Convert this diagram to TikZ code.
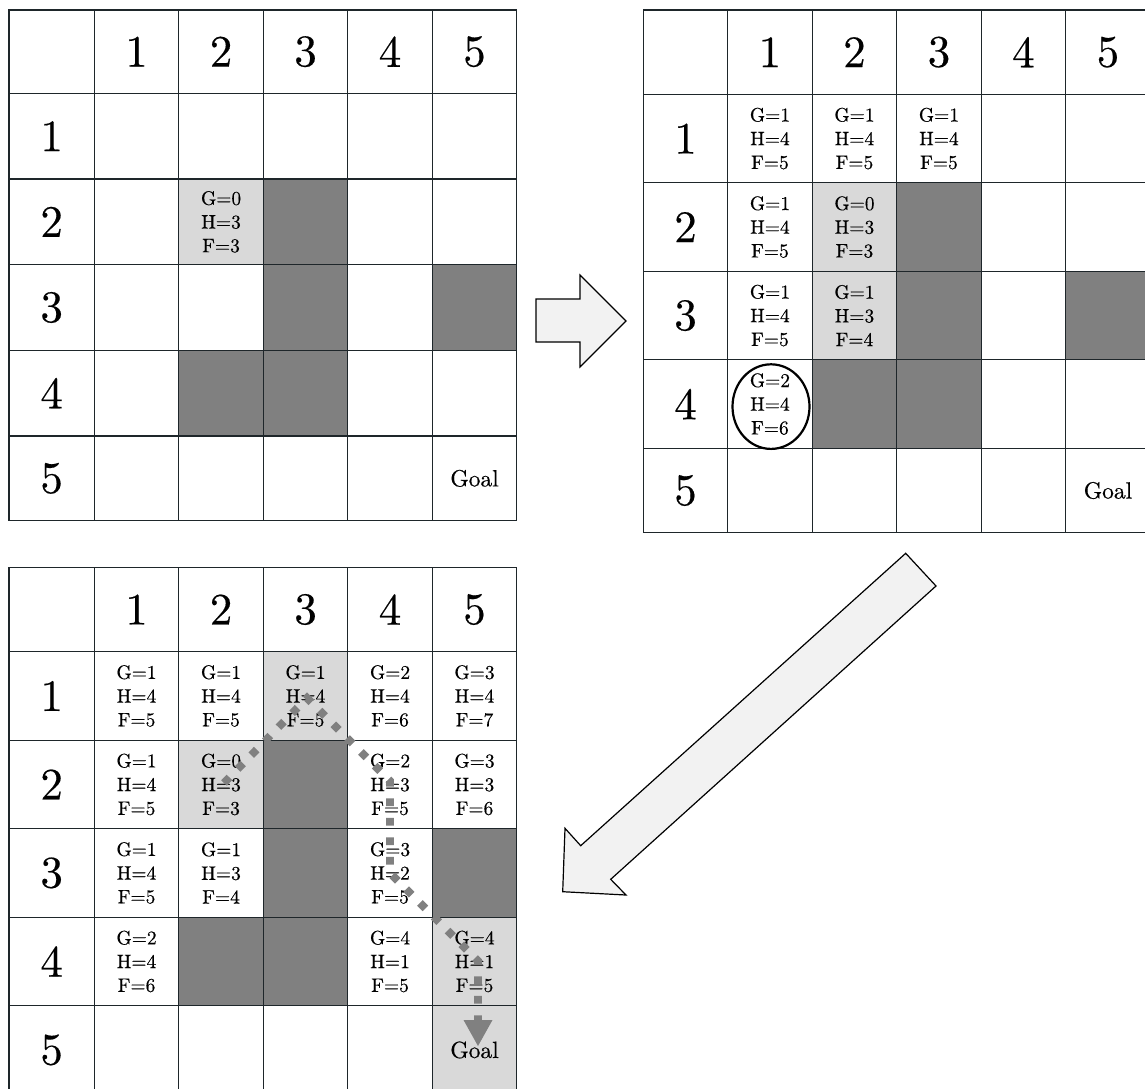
\documentclass[tikz,border=0pt]{standalone}
\usepackage{fontspec}
\setmainfont{lmroman10-regular.otf}[FakeBold=0.35]
\usetikzlibrary{arrows.meta}
\definecolor{darkcell}{RGB}{128,128,128}
\definecolor{lightcell}{RGB}{217,217,217}
\definecolor{arrowfill}{RGB}{242,242,242}
\definecolor{pathgray}{RGB}{128,128,128}
\definecolor{gridcol}{RGB}{30,38,42}
\tikzset{
  gridline/.style={draw=gridcol, line width=1.3pt, line cap=rect},
  darkfill/.style={fill=darkcell},
  lightfill/.style={fill=lightcell},
  headlabel/.style={font=\fontsize{45}{45}\selectfont, inner sep=0pt},
  vals/.style={font=\fontsize{19.5}{23.7}\selectfont, align=center, inner sep=0pt},
  goallabel/.style={font=\fontsize{23.5}{23.5}\selectfont, inner sep=0pt},
  blockarrow/.style={draw=black, fill=arrowfill, line width=1.2pt, line join=miter},
  route/.style={draw=pathgray, line width=7.8pt, dash pattern=on 7.8pt off 11.7pt,
    -{Triangle[length=26pt,width=29pt,line width=0pt]}},
  ring/.style={draw=black, line width=2.2pt}
}
\def\TLX{{9,94.3,178.8,263.3,347.8,432.3,516.7}}
\def\TLY{{10,93.3,179,264.7,350.3,436,520.7}}
\def\TRX{{643.3,727.7,812.2,896.7,981.2,1065.7,1150.2}}
\def\TRY{{10,94.3,182.8,271.3,359.8,448.3,532.7}}
\def\BX{{9,94.3,178.8,263.3,347.8,432.3,516.7}}
\def\BY{{567.3,651.7,740.2,828.7,917.2,1005.7,1094.2}}
\newcommand\cellfill[5]{%
  \pgfmathsetmacro\cxa{#1[#4]}\pgfmathsetmacro\cxb{#1[#4+1]}%
  \pgfmathsetmacro\cya{#2[#3]}\pgfmathsetmacro\cyb{#2[#3+1]}%
  \fill[#5] (\cxa,\cya) rectangle (\cxb,\cyb);}
\newcommand\celltext[7]{%
  \pgfmathsetmacro\cxa{#1[#4]}\pgfmathsetmacro\cxb{#1[#4+1]}%
  \pgfmathsetmacro\cya{#2[#3]}\pgfmathsetmacro\cyb{#2[#3+1]}%
  \pgfmathsetmacro\cxm{(\cxa+\cxb)/2}%
  \pgfmathsetmacro\cym{(\cya+\cyb)/2}%
  \node[#6] (#5) at (\cxm,\cym) {#7};}
\newcommand\gridlines[2]{%
  \foreach \k in {0,...,6}{%
    \pgfmathsetmacro\gxa{#1[\k]}\pgfmathsetmacro\gya{#2[0]}\pgfmathsetmacro\gyb{#2[6]}%
    \draw[gridline] (\gxa,\gya) -- (\gxa,\gyb);
    \pgfmathsetmacro\gyy{#2[\k]}\pgfmathsetmacro\gxb{#1[0]}\pgfmathsetmacro\gxc{#1[6]}%
    \draw[gridline] (\gxb,\gyy) -- (\gxc,\gyy);}}
\begin{document}
\begin{tikzpicture}[x=1pt,y=-1pt]
\useasboundingbox (0,0) rectangle (1145,1088);
\fill[white] (0,0) rectangle (1145,1088);

% ---------- top-left grid ----------
\cellfill{\TLX}{\TLY}{2}{2}{lightfill}
\cellfill{\TLX}{\TLY}{2}{3}{darkfill}
\cellfill{\TLX}{\TLY}{3}{3}{darkfill}
\cellfill{\TLX}{\TLY}{4}{3}{darkfill}
\cellfill{\TLX}{\TLY}{4}{2}{darkfill}
\cellfill{\TLX}{\TLY}{3}{5}{darkfill}
\foreach \c in {1,...,5}{\celltext{\TLX}{\TLY}{0}{\c}{tl-c\c}{headlabel}{\c}}
\foreach \r in {1,...,5}{\celltext{\TLX}{\TLY}{\r}{0}{tl-r\r}{headlabel}{\r}}
\celltext{\TLX}{\TLY}{2}{2}{tl-22}{vals}{G=0\\H=3\\F=3}
\celltext{\TLX}{\TLY}{5}{5}{tl-goal}{goallabel}{Goal}
\gridlines{\TLX}{\TLY}

% ---------- top-right grid ----------
\cellfill{\TRX}{\TRY}{2}{2}{lightfill}
\cellfill{\TRX}{\TRY}{3}{2}{lightfill}
\cellfill{\TRX}{\TRY}{2}{3}{darkfill}
\cellfill{\TRX}{\TRY}{3}{3}{darkfill}
\cellfill{\TRX}{\TRY}{4}{3}{darkfill}
\cellfill{\TRX}{\TRY}{4}{2}{darkfill}
\cellfill{\TRX}{\TRY}{3}{5}{darkfill}
\foreach \c in {1,...,5}{\celltext{\TRX}{\TRY}{0}{\c}{tr-c\c}{headlabel}{\c}}
\foreach \r in {1,...,5}{\celltext{\TRX}{\TRY}{\r}{0}{tr-r\r}{headlabel}{\r}}
\celltext{\TRX}{\TRY}{1}{1}{tr-11}{vals}{G=1\\H=4\\F=5}
\celltext{\TRX}{\TRY}{1}{2}{tr-12}{vals}{G=1\\H=4\\F=5}
\celltext{\TRX}{\TRY}{1}{3}{tr-13}{vals}{G=1\\H=4\\F=5}
\celltext{\TRX}{\TRY}{2}{1}{tr-21}{vals}{G=1\\H=4\\F=5}
\celltext{\TRX}{\TRY}{2}{2}{tr-22}{vals}{G=0\\H=3\\F=3}
\celltext{\TRX}{\TRY}{3}{1}{tr-31}{vals}{G=1\\H=4\\F=5}
\celltext{\TRX}{\TRY}{3}{2}{tr-32}{vals}{G=1\\H=3\\F=4}
\celltext{\TRX}{\TRY}{4}{1}{tr-41}{vals}{G=2\\H=4\\F=6}
\celltext{\TRX}{\TRY}{5}{5}{tr-goal}{goallabel}{Goal}
\gridlines{\TRX}{\TRY}
\draw[ring] (771,406.6) ellipse [x radius=38.5pt, y radius=42.3pt];

% ---------- bottom grid ----------
\cellfill{\BX}{\BY}{1}{3}{lightfill}
\cellfill{\BX}{\BY}{2}{2}{lightfill}
\cellfill{\BX}{\BY}{4}{5}{lightfill}
\cellfill{\BX}{\BY}{5}{5}{lightfill}
\cellfill{\BX}{\BY}{2}{3}{darkfill}
\cellfill{\BX}{\BY}{3}{3}{darkfill}
\cellfill{\BX}{\BY}{4}{3}{darkfill}
\cellfill{\BX}{\BY}{4}{2}{darkfill}
\cellfill{\BX}{\BY}{3}{5}{darkfill}
\foreach \c in {1,...,5}{\celltext{\BX}{\BY}{0}{\c}{b-c\c}{headlabel}{\c}}
\foreach \r in {1,...,5}{\celltext{\BX}{\BY}{\r}{0}{b-r\r}{headlabel}{\r}}
\celltext{\BX}{\BY}{1}{1}{b-11}{vals}{G=1\\H=4\\F=5}
\celltext{\BX}{\BY}{1}{2}{b-12}{vals}{G=1\\H=4\\F=5}
\celltext{\BX}{\BY}{1}{3}{b-13}{vals}{G=1\\H=4\\F=5}
\celltext{\BX}{\BY}{1}{4}{b-14}{vals}{G=2\\H=4\\F=6}
\celltext{\BX}{\BY}{1}{5}{b-15}{vals}{G=3\\H=4\\F=7}
\celltext{\BX}{\BY}{2}{1}{b-21}{vals}{G=1\\H=4\\F=5}
\celltext{\BX}{\BY}{2}{2}{b-22}{vals}{G=0\\H=3\\F=3}
\celltext{\BX}{\BY}{2}{4}{b-24}{vals}{G=2\\H=3\\F=5}
\celltext{\BX}{\BY}{2}{5}{b-25}{vals}{G=3\\H=3\\F=6}
\celltext{\BX}{\BY}{3}{1}{b-31}{vals}{G=1\\H=4\\F=5}
\celltext{\BX}{\BY}{3}{2}{b-32}{vals}{G=1\\H=3\\F=4}
\celltext{\BX}{\BY}{3}{4}{b-34}{vals}{G=3\\H=2\\F=5}
\celltext{\BX}{\BY}{4}{1}{b-41}{vals}{G=2\\H=4\\F=6}
\celltext{\BX}{\BY}{4}{4}{b-44}{vals}{G=4\\H=1\\F=5}
\celltext{\BX}{\BY}{4}{5}{b-45}{vals}{G=4\\H=1\\F=5}
\celltext{\BX}{\BY}{5}{5}{b-goal}{goallabel}{Goal}
\gridlines{\BX}{\BY}

% ---------- route in bottom grid ----------
\coordinate (p0) at (224,783);
\coordinate (p1) at (307,698);
\coordinate (p2) at (390,781);
\coordinate (p3) at (390,873);
\coordinate (p4) at (478,961);
\coordinate (p5) at (478,1046);
\draw[route] (p0) -- (p1) -- (p2) -- (p3) -- (p4) -- (p5);

% ---------- block arrows ----------
\draw[blockarrow] (536,299) -- (580,299) -- (580,275) -- (626,321) -- (580,367) -- (580,342) -- (536,342) -- cycle;
\draw[blockarrow] (905.7,553.3) -- (936,586) -- (610.7,879.3) -- (626,895) -- (562.7,891.7) -- (565,828.3) -- (580.7,845.7) -- cycle;
\end{tikzpicture}
\end{document}
